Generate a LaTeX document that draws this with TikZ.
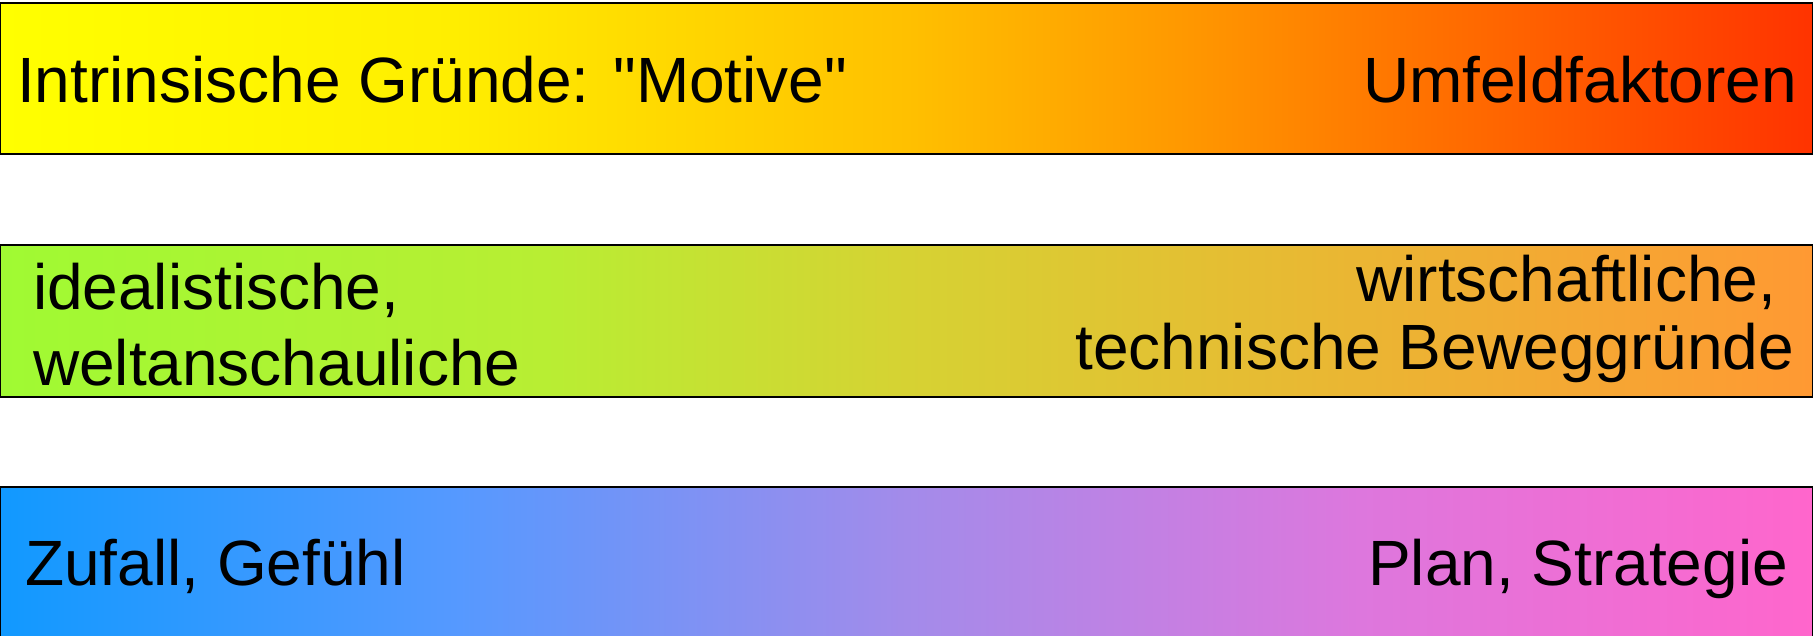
\documentclass[tikz,border=0pt]{standalone}
\usepackage{fontspec}
\setmainfont{Liberation Sans}[Ligatures=TeXOff]

% Horizontal colour ramps; the visible part of each runs from 25bp to 75bp
\pgfdeclarehorizontalshading{warmramp}{100bp}{%
  color(0bp)=(rgb,255:red,255;green,255;blue,0);
  color(25bp)=(rgb,255:red,255;green,255;blue,0);
  color(37.5bp)=(rgb,255:red,255;green,238;blue,0);
  color(50bp)=(rgb,255:red,255;green,192;blue,0);
  color(57.5bp)=(rgb,255:red,255;green,153;blue,0);
  color(75bp)=(rgb,255:red,255;green,51;blue,0);
  color(100bp)=(rgb,255:red,255;green,51;blue,0)}
\pgfdeclarehorizontalshading{limeramp}{100bp}{%
  color(0bp)=(rgb,255:red,160;green,250;blue,51);
  color(25bp)=(rgb,255:red,160;green,250;blue,51);
  color(40bp)=(rgb,255:red,184;green,238;blue,51);
  color(50bp)=(rgb,255:red,214;green,210;blue,51);
  color(75bp)=(rgb,255:red,255;green,153;blue,51);
  color(100bp)=(rgb,255:red,255;green,153;blue,51)}
\pgfdeclarehorizontalshading{coolramp}{100bp}{%
  color(0bp)=(rgb,255:red,17;green,153;blue,255);
  color(25bp)=(rgb,255:red,17;green,153;blue,255);
  color(37.5bp)=(rgb,255:red,85;green,153;blue,255);
  color(50bp)=(rgb,255:red,163;green,139;blue,234);
  color(62.5bp)=(rgb,255:red,221;green,119;blue,221);
  color(75bp)=(rgb,255:red,255;green,102;blue,204);
  color(100bp)=(rgb,255:red,255;green,102;blue,204)}

\tikzset{
  bar/.style={rectangle, draw=black, line width=1.2pt, inner sep=0pt, outer sep=0pt,
    minimum width=1811.8pt},
  label/.style={inner sep=0pt, outer sep=0pt, text=black,
    font=\fontsize{64}{77}\selectfont},
}

\begin{document}
\begin{tikzpicture}[x=1pt,y=1pt]
  \useasboundingbox (0,0) rectangle (1814,635);

  % three colour bands
  \node[bar, shading=warmramp, minimum height=151pt] (warm) at (906.6,556.5) {};
  \node[bar, shading=limeramp, minimum height=152pt] (lime) at (906.6,314) {};
  \node[bar, shading=coolramp, minimum height=151pt] (cool) at (906.6,72.5) {};

  % top band
  \node[label, anchor=base west] (motive) at (17,532) {Intrinsische Gründe: "Motive"};
  \node[label, anchor=base east] (umfeld) at (1797,532) {Umfeldfaktoren};

  % middle band
  \node[label, anchor=base west] (ideal) at (33,325) {idealistische,};
  \node[label, anchor=base west] (welt) at (33,249) {weltanschauliche};
  \node[label, anchor=base east] (wirt) at (1776,333) {wirtschaftliche,};
  \node[label, anchor=base east] (tech) at (1794,265) {technische Beweggründe};

  % bottom band
  \node[label, anchor=base west] (zufall) at (25,50) {Zufall, Gefühl};
  \node[label, anchor=base east] (plan) at (1788,50) {Plan, Strategie};
\end{tikzpicture}
\end{document}
